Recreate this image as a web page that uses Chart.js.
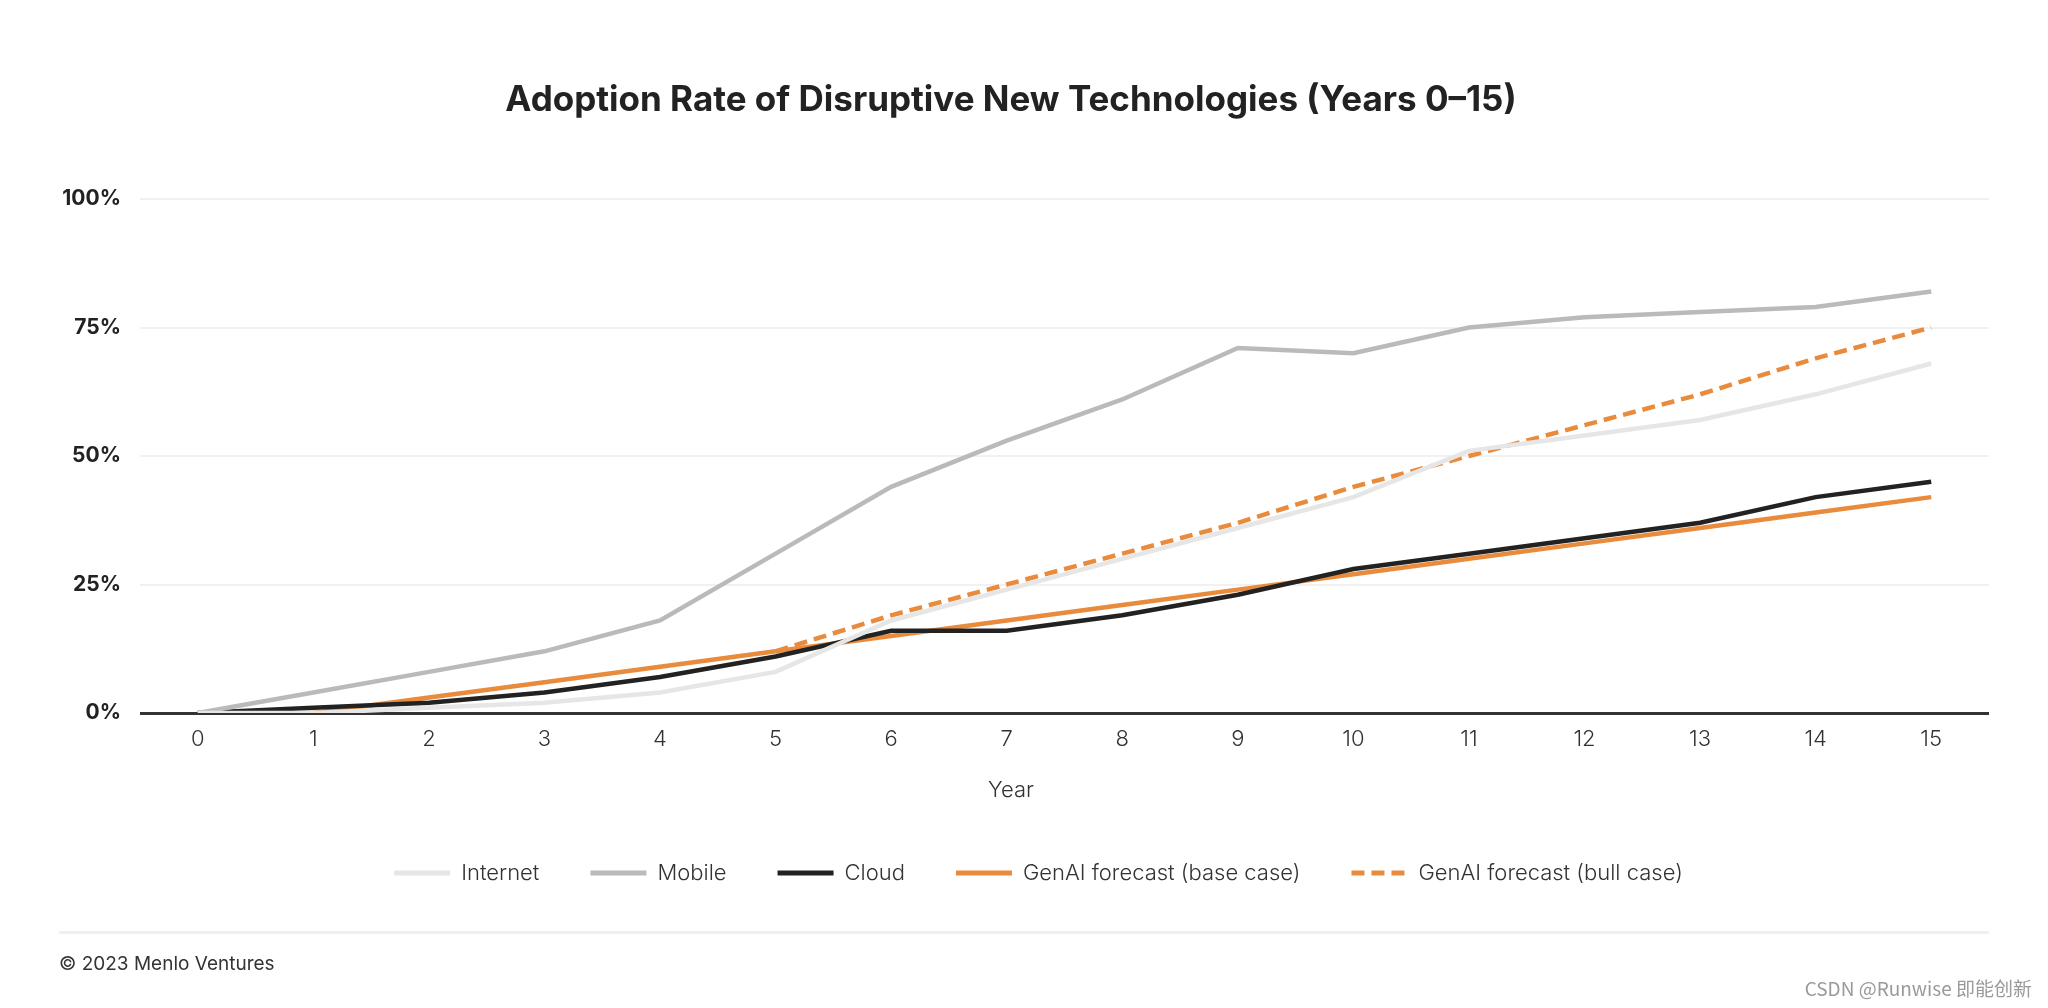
<!DOCTYPE html>
<html>
<head>
<meta charset="utf-8">
<script src="https://cdn.jsdelivr.net/npm/chart.js@4.4.1/dist/chart.umd.min.js"></script>
<style>
  html, body { margin: 0; padding: 0; background: #fff; }
  #wrap { position: relative; width: 2048px; height: 1008px; overflow: hidden; }
  #chart { position: absolute; left: 0; top: 0; }
  .title { position: absolute; left: 0; width: 2022px; top: 77px; line-height: 42px; text-align: center;
           font: 700 35px Inter, "Noto Sans", sans-serif; color: #222; }
  .xname { position: absolute; left: 0; width: 2022px; top: 776px; line-height: 26px; text-align: center;
           font: 300 22px Inter, "Noto Sans", sans-serif; color: #333; }
  .rule { position: absolute; left: 59px; width: 1930px; top: 931px; height: 3px; background: #f0f0f0; }
  .foot { position: absolute; left: 59px; top: 952px; font: 400 19px Inter, "Noto Sans", sans-serif; color: #333; }
  .mark { position: absolute; right: 16px; top: 974px; font: 400 19px "Noto Sans CJK SC", "Noto Sans", sans-serif; color: #9a9a9a; }
</style>
</head>
<body>
<div id="wrap">
  <canvas id="chart" width="2048" height="1008"></canvas>
  <div class="title">Adoption Rate of Disruptive New Technologies (Years 0–15)</div>
  <div class="xname">Year</div>
  <div class="rule"></div>
  <div class="foot">© 2023 Menlo Ventures</div>
  <div class="mark">CSDN @Runwise 即能创新</div>
</div>
<script>
const years = ["0", "1", "2", "3", "4", "5", "6", "7", "8", "9", "10", "11", "12", "13", "14", "15"];
const yTicks = [0, 25, 50, 75, 100];

const internet = [0, 0, 1, 2, 4, 8, 18, 24, 30, 36, 42, 51, 54, 57, 62, 68];
const mobile   = [0, 4, 8, 12, 18, 31, 44, 53, 61, 71, 70, 75, 77, 78, 79, 82];
const cloud    = [0, 1, 2, 4, 7, 11, 16, 16, 19, 23, 28, 31, 34, 37, 42, 45];
const genaiBase = [0, 0, 3, 6, 9, 12, 15, 18, 21, 24, 27, 30, 33, 36, 39, 42];
const genaiBull = [null, null, null, null, null, 12, 19, 25, 31, 37, 44, 50, 56, 62, 69, 75];

const ORANGE = '#e98b3c';

function line(label, data, color, extra) {
  return Object.assign({
    label,
    data,
    borderColor: color,
    backgroundColor: color,
    borderWidth: 4.5,
    pointRadius: 0,
    pointHoverRadius: 0,
    pointStyle: 'line',
    tension: 0,
    fill: false
  }, extra || {});
}

// the legend in the original sits a little right of the plot centre
const nudgeLegend = {
  id: 'nudgeLegend',
  afterLayout(chart) {
    if (chart.legend) {
      chart.legend.left += 44;
      chart.legend.right += 44;
    }
  }
};

new Chart(document.getElementById('chart'), {
  type: 'line',
  data: {
    labels: years,
    datasets: [
      line('Internet', internet, '#e6e6e6'),
      line('Mobile', mobile, '#bababa'),
      line('Cloud', cloud, '#222222'),
      line('GenAI forecast (base case)', genaiBase, ORANGE),
      line('GenAI forecast (bull case)', genaiBull, ORANGE, { borderDash: [13, 7] })
    ]
  },
  plugins: [nudgeLegend],
  options: {
    responsive: false,
    animation: false,
    devicePixelRatio: 1,
    layout: { padding: { left: 0, right: 59, top: 199, bottom: 114 } },
    scales: {
      x: {
        offset: true,
        afterFit: axis => { axis.height = 98; },
        grid: { display: false, drawTicks: false },
        border: { display: false },
        ticks: { color: '#333', padding: 13, font: { family: 'Inter', size: 22, weight: 300 } }
      },
      y: {
        min: 0, max: 100,
        afterBuildTicks: axis => { axis.ticks = yTicks.map(v => ({ value: v })); },
        afterFit: axis => { axis.width = 140; },
        grid: {
          drawTicks: false,
          color: c => c.tick && c.tick.value === 0 ? '#333333' : '#f1f1f1',
          lineWidth: c => c.tick && c.tick.value === 0 ? 3 : 2
        },
        border: { display: false },
        ticks: {
          padding: 19, color: '#222',
          font: { family: 'Inter', size: 21, weight: 700 },
          callback: v => v + '%'
        }
      }
    },
    plugins: {
      legend: {
        position: 'bottom',
        labels: {
          usePointStyle: true,
          pointStyleWidth: 56,
          padding: 51,
          color: '#333',
          font: { family: 'Inter', size: 22, weight: 300 },
          generateLabels: chart => {
            const items = Chart.defaults.plugins.legend.labels.generateLabels(chart);
            items.forEach(it => {
              const ds = chart.data.datasets[it.datasetIndex];
              it.lineDash = ds.borderDash || [];
              it.lineWidth = 5;
            });
            return items;
          }
        }
      },
      tooltip: { enabled: false }
    }
  }
});
</script>
</body>
</html>
